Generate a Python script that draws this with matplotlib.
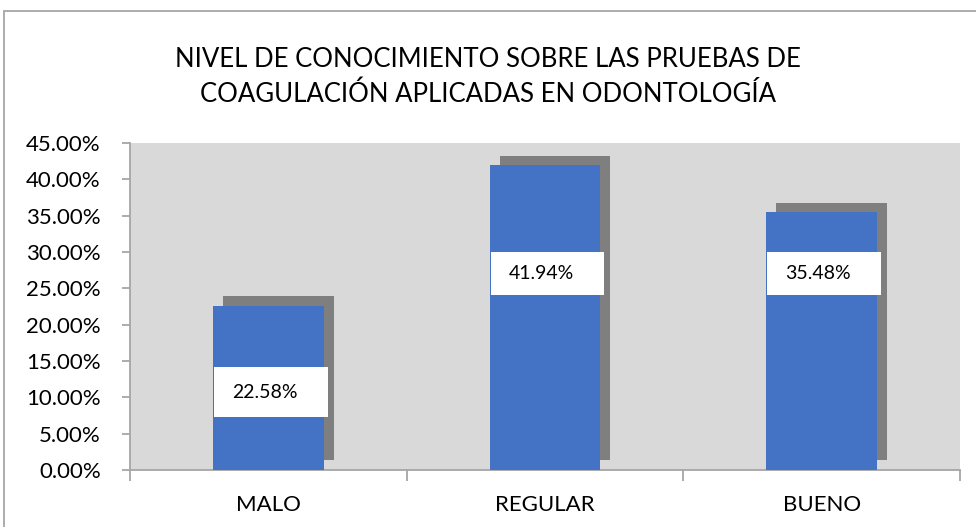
import numpy as np
import matplotlib
matplotlib.use('Agg')
import matplotlib.pyplot as plt
import matplotlib.patheffects as pe
from matplotlib.patches import Rectangle
from matplotlib.ticker import PercentFormatter

plt.rcParams['font.family'] = ['Lato', 'DejaVu Sans']

# Datos
categorias = ['MALO', 'REGULAR', 'BUENO']
porcentajes = [22.58, 41.94, 35.48]
etiquetas = ['22.58%', '41.94%', '35.48%']

# posicion (centro) de las cajas de etiqueta, en % del eje
etiqueta_y = [10.73, 27.06, 27.06]
etiqueta_alto = [7.0, 5.95, 5.95]

fig = plt.figure(figsize=(9.76, 5.27), dpi=100)
ax = fig.add_axes([130 / 976, 57 / 527, 830 / 976, 327 / 527])
ax.set_facecolor('#d9d9d9')

x = np.arange(len(categorias))
ax.bar(x, porcentajes, width=0.4, color='#4472c4', zorder=3,
       path_effects=[pe.SimplePatchShadow(offset=(7.3, 6.9), shadow_rgbFace='#7f7f7f', alpha=1.0),
                     pe.Normal()])

# cajas blancas con las etiquetas
for i, (yy, h, txt) in enumerate(zip(etiqueta_y, etiqueta_alto, etiquetas)):
    ax.add_patch(Rectangle((i - 0.2 + 0.004, yy - h / 2), 0.41, h, facecolor='white',
                           edgecolor='none', zorder=4))
    ax.text(i - 0.012, yy, txt, ha='center', va='center', fontsize=14, zorder=5)

ax.set_xlim(-0.5, 2.5)
ax.set_ylim(0, 45)
ax.set_yticks(np.arange(0, 46, 5))
ax.yaxis.set_major_formatter(PercentFormatter(decimals=2))
ax.set_xticks(x)
ax.set_xticklabels(categorias)
ax.set_xticks([-0.5, 0.5, 1.5, 2.5], minor=True)

for s in ['top', 'right']:
    ax.spines[s].set_visible(False)
for s in ['left', 'bottom']:
    ax.spines[s].set_color('#a6a6a6')
    ax.spines[s].set_linewidth(1.3)

ax.tick_params(axis='y', length=6, width=1.3, color='#a6a6a6', pad=15, labelsize=16)
ax.tick_params(axis='x', which='major', length=0, pad=18, labelsize=16)
ax.tick_params(axis='x', which='minor', length=8, width=1.3, color='#a6a6a6')

fig.text(0.5, 1 - 77 / 527,
         'NIVEL DE CONOCIMIENTO SOBRE LAS PRUEBAS DE\nCOAGULACIÓN APLICADAS EN ODONTOLOGÍA',
         ha='center', va='center', fontsize=18.5, linespacing=1.45)

# borde del grafico
fig.patches.append(Rectangle((4 / 976, -0.1), 1.2, 1.1 - 11 / 527, transform=fig.transFigure,
                             fill=False, edgecolor='#a6a6a6', linewidth=1.3))

fig.savefig('out.png', dpi=100)
